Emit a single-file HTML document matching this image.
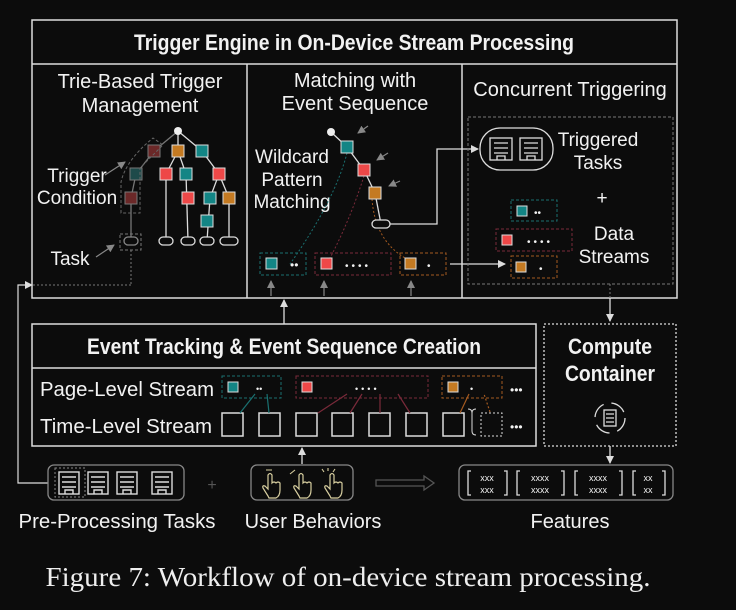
<!DOCTYPE html>
<html><head><meta charset="utf-8"><style>
html,body{margin:0;padding:0;background:#0c0c0c;}
svg{display:block}
text{font-family:"Liberation Sans",sans-serif;fill:#f2f2f2}
.b{font-weight:bold}
</style></head><body>
<svg width="736" height="610" viewBox="0 0 736 610" xmlns="http://www.w3.org/2000/svg">
<defs>
<marker id="a" markerWidth="8" markerHeight="8" refX="7" refY="4" orient="auto" markerUnits="userSpaceOnUse"><path d="M0,0 L8,4 L0,8 z" fill="#ddd"/></marker>
<marker id="g" markerWidth="8" markerHeight="8" refX="7" refY="4" orient="auto" markerUnits="userSpaceOnUse"><path d="M0,0 L8,4 L0,8 z" fill="#888"/></marker>
<g id="hand"><path d="M-2,12 L-7,4 Q-8,1 -5,2 L-2,5 L-2,-9 Q0,-12 2,-9 L2,-1 Q4,-3 6,-1 Q8,-3 10,-1 L10,6 Q10,12 6,14 L-1,14 Z" fill="none" stroke="#d8cfa0" stroke-width="1.2"/></g>
</defs>
<rect width="736" height="610" fill="#0c0c0c"/>
<!-- Top box -->
<rect x="32" y="20" width="645" height="278" fill="none" stroke="#ddd" stroke-width="1.5"/>
<line x1="32" y1="64" x2="677" y2="64" stroke="#ddd" stroke-width="1.5"/>
<line x1="247" y1="64" x2="247" y2="298" stroke="#ddd" stroke-width="1.5"/>
<line x1="462" y1="64" x2="462" y2="298" stroke="#ddd" stroke-width="1.5"/>
<text x="354" y="50" text-anchor="middle" class="b" font-size="22" textLength="440" lengthAdjust="spacingAndGlyphs">Trigger Engine in On-Device Stream Processing</text>
<text x="140" y="88" text-anchor="middle" font-size="20">Trie-Based Trigger</text>
<text x="140" y="112" text-anchor="middle" font-size="20">Management</text>
<text x="355" y="87" text-anchor="middle" font-size="20">Matching with</text>
<text x="355" y="110" text-anchor="middle" font-size="20">Event Sequence</text>
<text x="570" y="96" text-anchor="middle" font-size="20">Concurrent Triggering</text>

<!-- Tree -->
<g stroke="#ddd" stroke-width="1.3" fill="none">
<line x1="178" y1="131" x2="178" y2="151"/><line x1="178" y1="131" x2="202" y2="151"/>
<line x1="178" y1="151" x2="166" y2="174"/><line x1="178" y1="151" x2="186" y2="174"/>
<line x1="202" y1="151" x2="219" y2="174"/>
<line x1="166" y1="174" x2="166" y2="241"/><line x1="186" y1="174" x2="188" y2="241"/>
<line x1="219" y1="174" x2="210" y2="198"/><line x1="219" y1="174" x2="229" y2="198"/>
<line x1="210" y1="198" x2="207" y2="241"/><line x1="229" y1="198" x2="229" y2="241"/>
</g>
<g stroke="#777" stroke-width="1.3">
<line x1="178" y1="131" x2="154" y2="151"/><line x1="154" y1="151" x2="136" y2="174"/>
<line x1="136" y1="174" x2="131" y2="198"/><line x1="131" y1="198" x2="131" y2="241"/>
</g>
<circle cx="178" cy="131" r="4" fill="#eee"/>
<g stroke="#ddd" stroke-width="1">
<rect x="172" y="145" width="12" height="12" fill="#c47a22"/>
<rect x="196" y="145" width="12" height="12" fill="#138585"/>
<rect x="160" y="168" width="12" height="12" fill="#ee4848"/>
<rect x="180" y="168" width="12" height="12" fill="#138585"/>
<rect x="213" y="168" width="12" height="12" fill="#ee4848"/>
<rect x="182" y="192" width="12" height="12" fill="#ee4848"/>
<rect x="204" y="192" width="12" height="12" fill="#138585"/>
<rect x="223" y="192" width="12" height="12" fill="#c47a22"/>
<rect x="201" y="215" width="12" height="12" fill="#138585"/>
</g>
<g stroke="#777" stroke-width="1">
<rect x="148" y="145" width="12" height="12" fill="#6b2828"/>
<rect x="130" y="168" width="12" height="12" fill="#1e4a4a"/>
<rect x="125" y="192" width="12" height="12" fill="#6b2828"/>
</g>
<g fill="#0c0c0c" stroke="#ddd" stroke-width="1.3">
<rect x="159" y="237" width="14" height="8" rx="4"/>
<rect x="181" y="237" width="14" height="8" rx="4"/>
<rect x="200" y="237" width="14" height="8" rx="4"/>
<rect x="220" y="237" width="18" height="8" rx="4"/>
</g>
<rect x="124" y="237" width="14" height="8" rx="4" fill="#0c0c0c" stroke="#888" stroke-width="1.3"/>
<rect x="120" y="234" width="21" height="16" fill="none" stroke="#777" stroke-dasharray="3,2"/>
<path d="M121,213 L121,182 Q126,160 153,138 L163,145 L140,168 L140,213 Z" fill="none" stroke="#666" stroke-dasharray="3,2"/>
<line x1="131" y1="250" x2="131" y2="285" stroke="#777" stroke-dasharray="2,2"/>
<line x1="131" y1="285" x2="22" y2="285" stroke="#777" stroke-dasharray="2,2"/>
<text x="77" y="182" text-anchor="middle" font-size="19">Trigger</text>
<text x="77" y="204" text-anchor="middle" font-size="19">Condition</text>
<line x1="105" y1="175" x2="125" y2="162" stroke="#888" stroke-width="1.2" marker-end="url(#g)"/>
<text x="70" y="265" text-anchor="middle" font-size="19">Task</text>
<line x1="96" y1="257" x2="114" y2="245" stroke="#888" stroke-width="1.2" marker-end="url(#g)"/>

<!-- Middle -->
<text x="292" y="163" text-anchor="middle" font-size="19">Wildcard</text>
<text x="292" y="186" text-anchor="middle" font-size="19">Pattern</text>
<text x="292" y="208" text-anchor="middle" font-size="19">Matching</text>
<g stroke="#ddd" stroke-width="1.3"><line x1="331" y1="132" x2="347" y2="147"/><line x1="347" y1="147" x2="364" y2="170"/><line x1="364" y1="170" x2="375" y2="193"/><line x1="375" y1="193" x2="381" y2="224"/></g>
<circle cx="331" cy="132" r="4" fill="#eee"/>
<path d="M347,153 Q335,200 290,264" fill="none" stroke="#1a7070" stroke-dasharray="2,2"/>
<path d="M364,176 Q350,220 330,258" fill="none" stroke="#7a2a3a" stroke-dasharray="2,2"/>
<path d="M372,199 Q375,240 405,258" fill="none" stroke="#a45a20" stroke-dasharray="2,2"/>
<g stroke="#ddd" stroke-width="1"><rect x="341" y="141" width="12" height="12" fill="#138585"/><rect x="358" y="164" width="12" height="12" fill="#ee4848"/><rect x="369" y="187" width="12" height="12" fill="#c47a22"/></g>
<rect x="372" y="220" width="18" height="8" rx="4" fill="#0c0c0c" stroke="#ddd" stroke-width="1.3"/>
<g stroke="#888" stroke-width="1.2" marker-end="url(#g)"><line x1="368" y1="126" x2="358" y2="133"/><line x1="388" y1="153" x2="377" y2="160"/><line x1="400" y1="181" x2="389" y2="186"/></g>
<polyline points="390,224 437,224 437,149 478,149" fill="none" stroke="#ddd" stroke-width="1.3" marker-end="url(#a)"/>
<rect x="260" y="253" width="46" height="22" fill="none" stroke="#1a7070" stroke-dasharray="3,2"/>
<rect x="266" y="258" width="11" height="11" fill="#138585" stroke="#ddd"/>
<text x="290" y="269" font-size="12">••</text>
<rect x="315" y="253" width="76" height="22" fill="none" stroke="#7a2a3a" stroke-dasharray="3,2"/>
<rect x="321" y="258" width="11" height="11" fill="#ee4848" stroke="#ddd"/>
<text x="345" y="269" font-size="10" letter-spacing="3">••••</text>
<rect x="400" y="253" width="46" height="22" fill="none" stroke="#a45a20" stroke-dasharray="3,2"/>
<rect x="405" y="258" width="11" height="11" fill="#c47a22" stroke="#ddd"/>
<text x="427" y="269" font-size="10">•</text>
<line x1="450" y1="264" x2="505" y2="264" stroke="#ddd" stroke-width="1.3" marker-end="url(#a)"/>
<g stroke="#888" stroke-width="1.2" marker-end="url(#g)"><line x1="271" y1="296" x2="271" y2="281"/><line x1="324" y1="296" x2="324" y2="281"/><line x1="411" y1="296" x2="411" y2="281"/></g>

<!-- Right -->
<rect x="468" y="117" width="205" height="167" fill="none" stroke="#777" stroke-dasharray="3,2"/>
<rect x="480" y="128" width="73" height="42" rx="20" fill="none" stroke="#ddd" stroke-width="1.3"/>
<g fill="none" stroke="#ddd" stroke-width="1.3">
<rect x="490" y="138" width="22" height="22"/><rect x="520" y="138" width="22" height="22"/>
<path d="M494,143h14M494,148h14M494,153h14M497,160v-4h8v4M524,143h14M524,148h14M524,153h14M527,160v-4h8v4"/>
</g>
<text x="598" y="146" text-anchor="middle" font-size="19">Triggered</text>
<text x="598" y="169" text-anchor="middle" font-size="19">Tasks</text>
<text x="602" y="204" text-anchor="middle" font-size="19">+</text>
<text x="614" y="240" text-anchor="middle" font-size="19">Data</text>
<text x="614" y="263" text-anchor="middle" font-size="19">Streams</text>
<rect x="511" y="200" width="46" height="21" fill="none" stroke="#1a7070" stroke-dasharray="3,2"/>
<rect x="517" y="206" width="10" height="10" fill="#138585" stroke="#ddd"/><text x="534" y="216" font-size="10">••</text>
<rect x="496" y="229" width="76" height="22" fill="none" stroke="#7a2a3a" stroke-dasharray="3,2"/>
<rect x="502" y="235" width="10" height="10" fill="#ee4848" stroke="#ddd"/><text x="527" y="245" font-size="10" letter-spacing="3">••••</text>
<rect x="511" y="256" width="46" height="22" fill="none" stroke="#a45a20" stroke-dasharray="3,2"/>
<rect x="516" y="262" width="10" height="10" fill="#c47a22" stroke="#ddd"/><text x="539" y="272" font-size="10">•</text>
<line x1="610" y1="284" x2="610" y2="298" stroke="#777" stroke-dasharray="2,2"/>
<line x1="610" y1="298" x2="610" y2="321" stroke="#ddd" stroke-width="1.3" marker-end="url(#a)"/>

<!-- Event tracking -->
<line x1="284" y1="324" x2="284" y2="300" stroke="#ddd" stroke-width="1.3" marker-end="url(#a)"/>
<rect x="32" y="324" width="504" height="122" fill="none" stroke="#ddd" stroke-width="1.5"/>
<line x1="32" y1="368" x2="536" y2="368" stroke="#ddd" stroke-width="1.5"/>
<text x="284" y="354" text-anchor="middle" class="b" font-size="22" textLength="394" lengthAdjust="spacingAndGlyphs">Event Tracking &amp; Event Sequence Creation</text>
<text x="40" y="396" font-size="20" textLength="174" lengthAdjust="spacingAndGlyphs">Page-Level Stream</text>
<text x="40" y="433" font-size="20" textLength="172" lengthAdjust="spacingAndGlyphs">Time-Level Stream</text>
<g fill="none" stroke="#ddd" stroke-width="1.5">
<rect x="222" y="413" width="21" height="23"/><rect x="259" y="413" width="21" height="23"/><rect x="296" y="413" width="21" height="23"/><rect x="332" y="413" width="21" height="23"/><rect x="369" y="413" width="21" height="23"/><rect x="406" y="413" width="21" height="23"/><rect x="443" y="413" width="21" height="23"/>
</g>
<rect x="481" y="413" width="21" height="23" fill="none" stroke="#ddd" stroke-dasharray="2,2"/>
<path d="M468,409 q4,0 4,4 v18 q0,4 4,4 M476,409 q-4,0 -4,4" fill="none" stroke="#ddd"/>
<text x="510" y="394" font-size="12">•••</text>
<text x="510" y="431" font-size="12">•••</text>
<rect x="222" y="376" width="59" height="22" fill="none" stroke="#1a7070" stroke-dasharray="3,2"/>
<rect x="228" y="382" width="10" height="10" fill="#138585" stroke="#ddd"/><text x="256" y="392" font-size="9">••</text>
<rect x="296" y="376" width="132" height="22" fill="none" stroke="#7a2a3a" stroke-dasharray="3,2"/>
<rect x="302" y="382" width="10" height="10" fill="#ee4848" stroke="#ddd"/><text x="355" y="392" font-size="9" letter-spacing="3">••••</text>
<rect x="442" y="376" width="60" height="22" fill="none" stroke="#a45a20" stroke-dasharray="3,2"/>
<rect x="448" y="382" width="10" height="10" fill="#c47a22" stroke="#ddd"/><text x="470" y="392" font-size="9">•</text>
<g stroke="#1a7070" stroke-width="1.2"><line x1="240" y1="413" x2="255" y2="394"/><line x1="269" y1="413" x2="267" y2="394"/></g>
<g stroke="#7a2a3a" stroke-width="1.2"><line x1="318" y1="413" x2="347" y2="394"/><line x1="350" y1="413" x2="362" y2="394"/><line x1="380" y1="413" x2="380" y2="394"/><line x1="410" y1="413" x2="398" y2="394"/></g>
<g stroke="#a45a20" stroke-width="1.2"><line x1="460" y1="413" x2="469" y2="394"/><line x1="490" y1="412" x2="484" y2="394" stroke-dasharray="2,2"/></g>

<!-- Compute container -->
<rect x="544" y="324" width="132" height="122" fill="none" stroke="#ddd" stroke-width="1.3" stroke-dasharray="2,2"/>
<text x="610" y="354" text-anchor="middle" class="b" font-size="22" textLength="84" lengthAdjust="spacingAndGlyphs">Compute</text>
<text x="610" y="381" text-anchor="middle" class="b" font-size="22" textLength="90" lengthAdjust="spacingAndGlyphs">Container</text>
<g fill="none" stroke="#ddd" stroke-width="1.3">
<circle cx="610" cy="418" r="15" stroke-dasharray="16,8"/>
<rect x="604" y="410" width="12" height="16"/><path d="M606,414h8M606,418h8M606,422h8"/>
</g>
<line x1="610" y1="446" x2="610" y2="463" stroke="#ddd" stroke-width="1.3" marker-end="url(#a)"/>

<!-- Bottom row -->
<polyline points="48,483 18,483 18,285 32,285" fill="none" stroke="#ddd" stroke-width="1.2" marker-end="url(#a)"/>
<rect x="48" y="465" width="136" height="35" rx="6" fill="none" stroke="#888" stroke-width="1.3"/>
<rect x="55" y="468" width="30" height="29" fill="none" stroke="#888" stroke-dasharray="2,2"/>
<g fill="none" stroke="#ddd" stroke-width="1.4">
<rect x="59" y="472" width="20" height="22"/><rect x="88" y="472" width="20" height="22"/><rect x="117" y="472" width="20" height="22"/><rect x="152" y="472" width="20" height="22"/>
<path d="M62,477h14M62,482h14M62,487h14M65,494v-4h8v4 M91,477h14M91,482h14M91,487h14M94,494v-4h8v4 M120,477h14M120,482h14M120,487h14M123,494v-4h8v4 M155,477h14M155,482h14M155,487h14M158,494v-4h8v4"/>
</g>
<text x="212" y="490" text-anchor="middle" font-size="16" style="fill:#555">+</text>
<rect x="251" y="465" width="102" height="35" rx="6" fill="none" stroke="#888" stroke-width="1.3"/>
<use href="#hand" x="270" y="484"/>
<use href="#hand" x="301" y="484"/>
<use href="#hand" x="332" y="484"/>
<g stroke="#d8cfa0" stroke-width="1.1" fill="none"><path d="M266,470h6M290,474l5,-4M328,468v3M335,469l-2,3M322,469l2,3"/></g>
<line x1="302" y1="464" x2="302" y2="448" stroke="#ddd" stroke-width="1.3" marker-end="url(#a)"/>
<path d="M376,480h48v-4l10,7l-10,7v-4h-48z" fill="none" stroke="#555" stroke-width="1.3"/>
<rect x="459" y="465" width="214" height="35" rx="6" fill="none" stroke="#888" stroke-width="1.3"/>
<g fill="none" stroke="#ddd" stroke-width="1.3">
<path d="M471,471h-3v24h3 M504,471h3v24h-3 M520,471h-3v24h3 M561,471h3v24h-3 M578,471h-3v24h3 M619,471h3v24h-3 M636,471h-3v24h3 M662,471h3v24h-3"/>
</g>
<g font-size="9" text-anchor="middle" style="fill:#ddd">
<text x="487" y="481">xxx</text><text x="487" y="493">xxx</text>
<text x="540" y="481">xxxx</text><text x="540" y="493">xxxx</text>
<text x="598" y="481">xxxx</text><text x="598" y="493">xxxx</text>
<text x="648" y="481">xx</text><text x="648" y="493">xx</text>
</g>
<text x="117" y="528" text-anchor="middle" font-size="20" textLength="197" lengthAdjust="spacingAndGlyphs">Pre-Processing Tasks</text>
<text x="313" y="528" text-anchor="middle" font-size="20">User Behaviors</text>
<text x="570" y="528" text-anchor="middle" font-size="20">Features</text>
<text x="348" y="586" text-anchor="middle" font-size="27" textLength="605" lengthAdjust="spacingAndGlyphs" style="font-family:'Liberation Serif',serif;fill:#eee">Figure 7: Workflow of on-device stream processing.</text>
</svg>
</body></html>
